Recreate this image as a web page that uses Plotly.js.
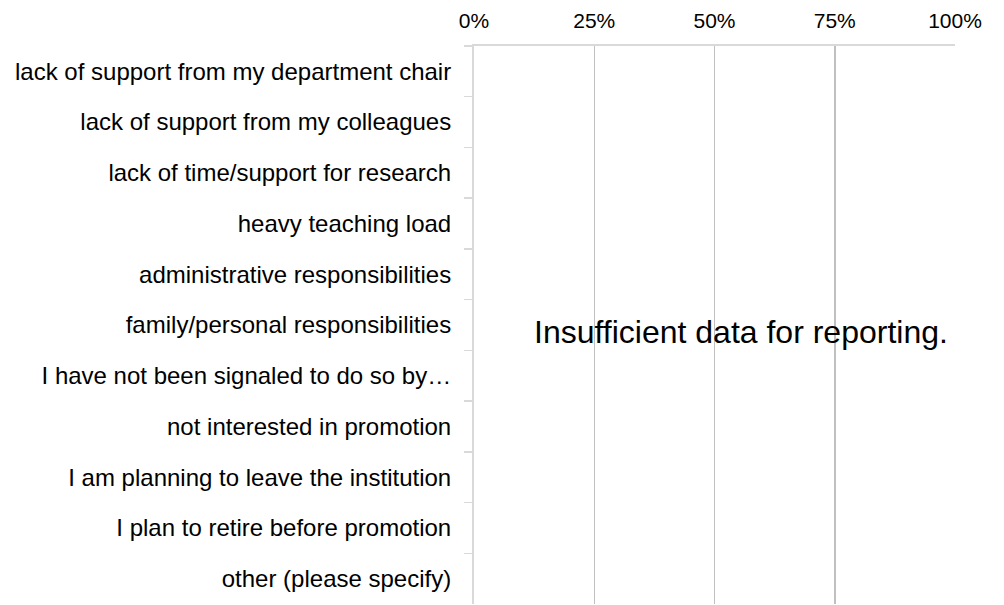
<!DOCTYPE html>
<html>
<head>
<meta charset="utf-8">
<script src="https://cdn.plot.ly/plotly-3.0.1.min.js"></script>
<style>html,body{margin:0;padding:0;background:#fff;}#chart{width:1004px;height:605px;}</style>
</head>
<body>
<div id="chart"></div>
<script>
const categories = [
  "lack of support from my department chair",
  "lack of support from my colleagues",
  "lack of time/support for research",
  "heavy teaching load",
  "administrative responsibilities",
  "family/personal responsibilities",
  "I have not been signaled to do so by…",
  "not interested in promotion",
  "I am planning to leave the institution",
  "I plan to retire before promotion",
  "other (please specify)"
];
const values = [null, null, null, null, null, null, null, null, null, null, null];
const xTickValues = [0, 0.25, 0.5, 0.75, 1];
const xTickLabels = ["0%", "25%", "50%", "75%", "100%"];
const message = "Insufficient data for reporting.";

const font = "Liberation Sans, Arial, sans-serif";

const data = [{
  type: "bar",
  orientation: "h",
  x: values,
  y: categories,
  marker: {color: "#4472c4"},
  hoverinfo: "skip",
  showlegend: false
}];

const layout = {
  width: 1004,
  height: 605,
  margin: {l: 474, r: 49, t: 46, b: 1, pad: 0},
  paper_bgcolor: "#ffffff",
  plot_bgcolor: "#ffffff",
  font: {family: font, color: "#000000", size: 20},
  xaxis: {
    side: "top",
    range: [0, 1],
    tickmode: "array",
    tickvals: xTickValues,
    ticktext: xTickLabels,
    showgrid: true,
    gridcolor: "#c0c0c0",
    gridwidth: 1.5,
    zeroline: false,
    showline: true,
    linecolor: "#d9d9d9",
    linewidth: 2,
    ticks: "",
    ticklabelstandoff: 8,
    tickfont: {family: font, size: 21, color: "#000000"},
    fixedrange: true
  },
  yaxis: {
    type: "category",
    categoryorder: "array",
    categoryarray: categories,
    range: [10.5, -0.5],
    showgrid: false,
    zeroline: false,
    showline: true,
    linecolor: "#d9d9d9",
    linewidth: 2,
    ticks: "outside",
    tickson: "boundaries",
    ticklen: 8,
    tickcolor: "#d9d9d9",
    tickwidth: 1.5,
    ticklabelstandoff: 16,
    tickfont: {family: font, size: 24, color: "#000000"},
    fixedrange: true
  },
  annotations: [{
    text: message,
    xref: "paper", yref: "paper",
    x: 0.556, y: 0.487,
    xanchor: "center", yanchor: "middle",
    showarrow: false,
    font: {family: font, size: 32, color: "#000000"}
  }]
};

Plotly.newPlot("chart", data, layout, {displayModeBar: false, staticPlot: true});
</script>
</body>
</html>
